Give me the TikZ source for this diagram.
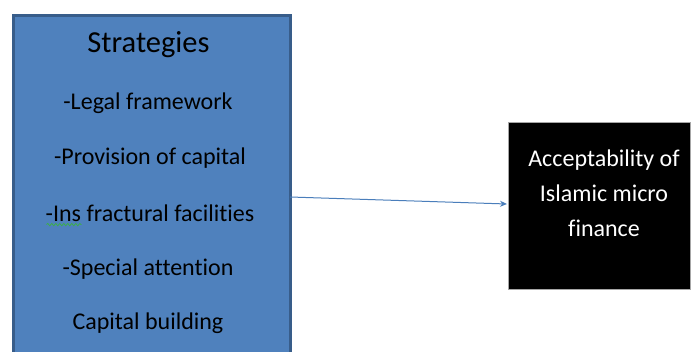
\documentclass[tikz,border=0pt]{standalone}
\usepackage{fontspec}
\setmainfont[Ligatures={NoCommon}]{Carlito}
\usetikzlibrary{arrows.meta,decorations.pathmorphing}
\definecolor{boxblue}{HTML}{4F81BD}
\definecolor{boxedge}{HTML}{385D8A}
\definecolor{arrowblue}{HTML}{4A7EBB}
\definecolor{spellgreen}{HTML}{3CB043}
\tikzset{
  strat/.style={font=\fontsize{24}{28}\selectfont, text=black, inner sep=0pt, anchor=center},
  acc/.style={font=\fontsize{24}{35}\selectfont, text=white, align=center, inner sep=0pt},
}
\begin{document}
\begin{tikzpicture}[x=1pt,y=-1pt]
\clip (0,0) rectangle (691,352);
\fill[white] (0,0) rectangle (691,352);
% blue box (runs past the bottom edge)
\node[draw=boxedge, line width=3pt, fill=boxblue, minimum width=277pt, minimum height=360pt, anchor=north west, inner sep=0pt] (s) at (11.5,14.5) {};
\node[font=\fontsize{30.5}{36}\selectfont, inner sep=0pt] (t) at (148.5,45) {Strategies};
\node[strat] (l1) at (148,103) {-Legal framework};
\node[strat] (l2) at (150,158) {-Provision of capital};
\node[strat] (l3) at (150,213) {-Ins fractural facilities};
\node[strat] (l4) at (148,269) {-Special attention};
\node[strat] (l5) at (148,323) {Capital building};
\draw[spellgreen, line width=0.7pt, decoration={snake, amplitude=1.2pt, segment length=4pt}, decorate]
  ([xshift=1pt,yshift=-3pt]l3.south west) -- ([xshift=36pt,yshift=-3pt]l3.south west);
% black box
\node[draw=gray!70, line width=0.6pt, fill=black, minimum width=182pt, minimum height=167pt, anchor=north west, inner sep=0pt] (a) at (508,122) {};
\node[acc] (at) at (604,193) {Acceptability of\\Islamic micro\\finance};
% arrow
\coordinate (p) at (290,197);
\coordinate (q) at (507,204);
\draw[arrowblue, line width=1pt, -{Stealth[length=7pt,width=6pt]}] (p) -- (q);
\end{tikzpicture}
\end{document}
